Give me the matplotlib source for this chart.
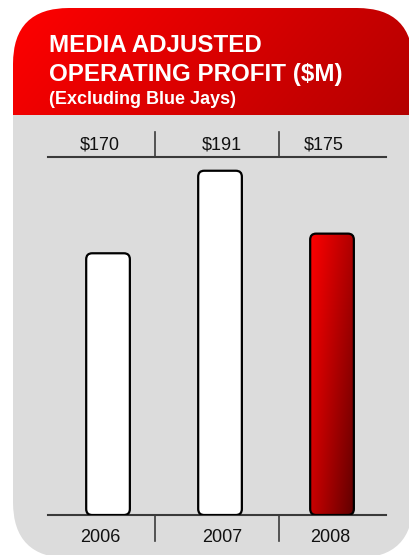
import numpy as np
import matplotlib
matplotlib.use("Agg")
import matplotlib.pyplot as plt
from matplotlib.patches import FancyBboxPatch, Rectangle

plt.rcParams['font.family'] = ['Liberation Sans', 'DejaVu Sans']

years = ["2006", "2007", "2008"]
profit = [170, 191, 175]
value_labels = ["$170", "$191", "$175"]

W, H = 409, 555
fig = plt.figure(figsize=(W / 100, H / 100), dpi=100)
fig.patch.set_facecolor("white")

# background panel, drawn in pixel coordinates
bg = fig.add_axes([0, 0, 1, 1])
bg.set_xlim(0, W)
bg.set_ylim(H, 0)
bg.axis("off")

panel = FancyBboxPatch((13, 8), 400, 550, boxstyle="round,pad=0,rounding_size=56",
                       facecolor="none", edgecolor="none")
bg.add_patch(panel)

# red header with a soft diagonal shade
gx, gy = np.meshgrid(np.linspace(0, 1, 200), np.linspace(0, 1, 60))
red = 255 - 62 * gx - 14 * gy
head = np.zeros((60, 200, 3))
head[..., 0] = red / 255
im = bg.imshow(head, extent=(13, 413, 115, 8), aspect="auto", zorder=1)
im.set_clip_path(panel)

gray = Rectangle((13, 115), 400, 445, facecolor="#dcdcdc", edgecolor="none", zorder=2)
bg.add_patch(gray)
gray.set_clip_path(panel)

bg.text(49, 45, "MEDIA ADJUSTED", color="white", fontsize=17.4, fontweight="bold",
        va="center", ha="left", zorder=3)
bg.text(49, 74, "OPERATING PROFIT ($M)", color="white", fontsize=17.4, fontweight="bold",
        va="center", ha="left", zorder=3)
bg.text(49, 100, "(Excluding Blue Jays)", color="white", fontsize=13, fontweight="bold",
        va="center", ha="left", zorder=3)

# bar chart area
ax = fig.add_axes([48 / W, (H - 515) / H, 338 / W, 358 / H])
ax.set_facecolor("none")
ax.set_xlim(-0.536, 2.482)
ax.set_ylim(103.4, 194.5)
ax.axis("off")

xpx = 338 / (2.482 + 0.536)
ypx = 358 / (194.5 - 103.4)
width = 0.39
pos = np.arange(len(years))
y0 = ax.get_ylim()[0]

line_c = "#3a3a3a"
ax.axhline(ax.get_ylim()[1], color=line_c, lw=1.5, clip_on=False)
ax.axhline(y0, color=line_c, lw=1.5, clip_on=False, zorder=1)
for d in (0.42, 1.53):
    ax.plot([d, d], [1.0, 1.07], color=line_c, lw=1.2,
            transform=ax.get_xaxis_transform(), clip_on=False)
    ax.plot([d, d], [0.0, -0.073], color=line_c, lw=1.2,
            transform=ax.get_xaxis_transform(), clip_on=False)

# small horizontal nudges (in px) for the label text
top_shift = [-8, 2, -8]
bot_shift = [-8, 2, -2]

r = 6 / xpx
for i, (p, v) in enumerate(zip(pos, profit)):
    last = i == len(years) - 1
    bar = FancyBboxPatch((p - width / 2, y0), width, v - y0,
                         boxstyle=f"round,pad=0,rounding_size={r}",
                         mutation_aspect=xpx / ypx,
                         facecolor="none" if last else "white",
                         edgecolor="black", lw=1.6, zorder=3)
    ax.add_patch(bar)
    if last:
        bx, by = np.meshgrid(np.linspace(0, 1, 60), np.linspace(0, 1, 200))
        shade = 255 - 80 * bx - 55 * by - 24 * bx * by
        grad = np.zeros((200, 60, 3))
        grad[..., 0] = shade / 255
        gi = ax.imshow(grad, extent=(p - width / 2, p + width / 2, y0, v),
                       aspect="auto", zorder=2)
        gi.set_clip_path(bar)

    ax.text(p + top_shift[i] / xpx, 1 + 12 / 358, value_labels[i],
            transform=ax.get_xaxis_transform(),
            ha="center", va="center", fontsize=13, color="#111111")
    ax.text(p + bot_shift[i] / xpx, -23 / 358, years[i],
            transform=ax.get_xaxis_transform(),
            ha="center", va="center", fontsize=13, color="#111111")

ax.set_xlim(-0.536, 2.482)
ax.set_ylim(103.4, 194.5)

fig.savefig("out.png", dpi=100)
